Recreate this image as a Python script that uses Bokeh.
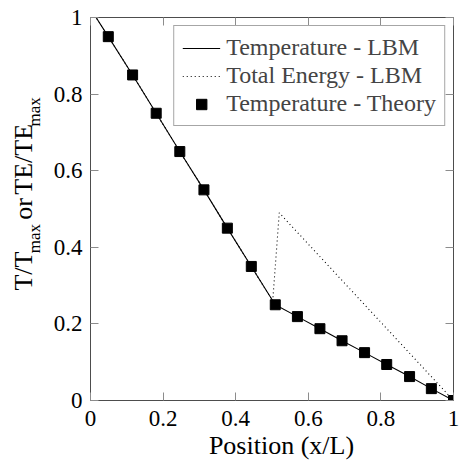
import math
from bokeh.plotting import figure
from bokeh.layouts import row
from bokeh.models import LinearAxis, FixedTicker, Label, Legend, LegendItem, Title
from bokeh.embed import file_html
from bokeh.resources import INLINE

# ---- data ----
theory_x = [0.049, 0.116, 0.181, 0.246, 0.3125, 0.377, 0.443, 0.509,
            0.570, 0.632, 0.693, 0.755, 0.816, 0.879, 0.939, 1.0]
theory_y = [0.95, 0.85, 0.75, 0.65, 0.55, 0.45, 0.35, 0.25,
            0.219, 0.1875, 0.156, 0.125, 0.094, 0.0625, 0.031, 0.0]

temp_lbm_x = [0.0, 0.049, 0.116, 0.181, 0.246, 0.3125, 0.377, 0.443, 0.509,
              0.570, 0.632, 0.693, 0.755, 0.816, 0.879, 0.939, 1.0]
temp_lbm_y = [1.023, 0.95, 0.85, 0.75, 0.65, 0.55, 0.45, 0.35, 0.25,
              0.219, 0.1875, 0.156, 0.125, 0.094, 0.0625, 0.031, 0.0]

energy_x = [0.0, 0.049, 0.116, 0.181, 0.246, 0.3125, 0.377, 0.443, 0.502, 0.520, 1.0]
energy_y = [1.023, 0.95, 0.85, 0.75, 0.65, 0.55, 0.45, 0.35, 0.26, 0.49, 0.0]

tick_values = [0, 0.2, 0.4, 0.6, 0.8, 1.0]
tick_labels = ["0", "0.2", "0.4", "0.6", "0.8", "1"]

x_title = "Position (x/L)"
# y title pieces: (text, is_subscript)
y_title_parts = [("T/T", False), ("max", True), ("or", False),
                 ("TE/TE", False), ("max", True)]

FONT = "Liberation Serif"
TICK_FS = "23px"
LEG_FS = "24px"
TITLE_FS = "26px"
SUB_FS = "17px"
FRAME = "#4d4d4d"
TICK = "#8c8c8c"

W_LEFT = 50      # strip that holds the rotated y title
W_MAIN = 459 - W_LEFT

p = figure(width=W_MAIN, height=465, x_range=(0, 1), y_range=(0, 1),
           output_backend="svg", toolbar_location=None,
           min_border_left=40, min_border_right=6, min_border_top=17,
           min_border_bottom=65)
p.grid.visible = False
p.outline_line_color = FRAME
p.outline_line_width = 1
p.background_fill_color = "white"
p.border_fill_color = "white"

overrides = {v: s for v, s in zip(tick_values, tick_labels)}
blank = {v: "" for v in tick_values}

def style_axis(ax, show_labels, standoff):
    ax.ticker = FixedTicker(ticks=tick_values)
    ax.axis_line_color = None
    ax.major_tick_in = 8
    ax.major_tick_out = 0
    ax.major_tick_line_color = TICK
    ax.major_tick_line_width = 1
    ax.minor_tick_line_color = None
    ax.major_label_text_font = FONT
    ax.major_label_text_color = "black"
    if show_labels:
        ax.major_label_overrides = overrides
        ax.major_label_text_font_size = TICK_FS
        ax.major_label_standoff = standoff
    else:
        ax.major_label_overrides = blank
        ax.major_label_text_font_size = "1px"
        ax.major_label_standoff = 0

style_axis(p.xaxis[0], True, 10)
style_axis(p.yaxis[0], True, 8)
top_ax = LinearAxis()
right_ax = LinearAxis()
style_axis(top_ax, False, 0)
style_axis(right_ax, False, 0)
p.add_layout(top_ax, "above")
p.add_layout(right_ax, "right")

# x title below the axis, shifted to match the reference's centre
title_w = 5.584 * 26.0
xt = Title(text=x_title, align="left", offset=(281 - 90) - title_w / 2,
           text_font=FONT, text_font_size=TITLE_FS, text_font_style="normal",
           text_color="black", standoff=0)
p.add_layout(xt, "below")

r_temp = p.line(temp_lbm_x, temp_lbm_y, line_color="black", line_width=1.1)
r_energy = p.line(energy_x, energy_y, line_color="black", line_width=1.1,
                  line_dash="1 3")
r_theory = p.scatter(theory_x, theory_y, marker="square", size=10,
                     fill_color="black", line_color="black")

legend = Legend(items=[
    LegendItem(label="Temperature - LBM", renderers=[r_temp]),
    LegendItem(label="Total Energy - LBM", renderers=[r_energy]),
    LegendItem(label="Temperature - Theory", renderers=[r_theory]),
], location="top_right")
legend.margin = 8
legend.padding = 8
legend.spacing = 1
legend.glyph_width = 38
legend.glyph_height = 26
legend.label_height = 26
legend.label_standoff = 6
legend.label_text_font = FONT
legend.label_text_font_size = LEG_FS
legend.border_line_color = FRAME
legend.border_line_width = 1
legend.background_fill_alpha = 1
p.add_layout(legend)

# ---- left strip with the rotated y title ----
ly = figure(width=W_LEFT, height=465, x_range=(0, W_LEFT), y_range=(0, 465),
            x_axis_type=None, y_axis_type=None, output_backend="svg",
            toolbar_location=None, min_border=0)
ly.grid.visible = False
ly.outline_line_color = None

main_px = 26.0
sub_px = 17.0
# approximate advance widths (em), with an allowance for the rendered font
em = {"T/T": 1.5, "max": 1.722, "or": 0.833, "TE/TE": 2.722}
allow = 1.15
gap_space = 7.0
widths = []
for txt, is_sub in y_title_parts:
    size = sub_px if is_sub else main_px
    widths.append(em[txt] * size * allow + (2 * gap_space if txt == "or" else 0))
total = sum(widths)
pos = 465 - 214.0 - total / 2   # centred like the reference's title
for (txt, is_sub), w in zip(y_title_parts, widths):
    size = sub_px if is_sub else main_px
    base_x = 40.0 if is_sub else 32.0
    cx = base_x - 0.3375 * size       # middle of the text box
    cy = pos + w / 2
    ly.add_layout(Label(x=cx, y=cy, text=txt, angle=math.pi / 2,
                        text_align="center", text_baseline="middle",
                        text_font=FONT,
                        text_font_size=SUB_FS if is_sub else TITLE_FS,
                        text_color="black"))
    pos += w

layout = row(ly, p, spacing=0)
open("out.html", "w").write(file_html(layout, INLINE))
